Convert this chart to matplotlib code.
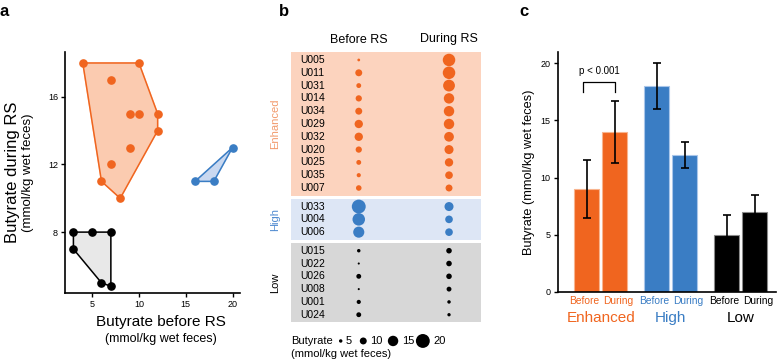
import matplotlib
matplotlib.use('Agg')
import matplotlib.pyplot as plt
import matplotlib.transforms as mtransforms

plt.rcParams['font.family'] = ['Liberation Sans', 'DejaVu Sans']

ORANGE = '#F0651F'
BLUE = '#3A7DC4'
BLACK = '#000000'

# subjects per group, butyrate before / during RS (mmol/kg wet feces)
enh_ids = ['U005', 'U011', 'U031', 'U014', 'U034', 'U029', 'U032', 'U020', 'U025', 'U035', 'U007']
enh_before = [4, 10, 7, 9, 10, 12, 12, 9, 7, 6, 8]
enh_during = [18, 18, 17, 15, 15, 15, 14, 13, 12, 11, 10]

high_ids = ['U033', 'U004', 'U006']
high_before = [20, 18, 16]
high_during = [13, 11, 11]

low_ids = ['U015', 'U022', 'U026', 'U008', 'U001', 'U024']
low_before = [5, 3, 7, 3, 6, 7]
low_during = [8, 8, 8, 7, 5, 4.8]

# panel c group means and errors
bar_groups = ['Enhanced', 'High', 'Low']
bar_before = [9, 18, 5]
bar_during = [14, 12, 7]
err_before = [2.5, 2.0, 1.7]
err_during = [2.7, 1.15, 1.5]

legend_vals = [5, 10, 15, 20]

groups = [
    ('Enhanced', enh_ids, enh_before, enh_during, ORANGE, '#FCD3BE', '#FBCBB0', '#F29A6C'),
    ('High', high_ids, high_before, high_during, BLUE, '#DDE6F5', '#C9D8F0', '#4F8AD0'),
    ('Low', low_ids, low_before, low_during, BLACK, '#D7D7D7', '#E8E8E8', '#000000'),
]


def convex_hull(xs, ys):
    pts = sorted(set(zip(xs, ys)))

    def cross(o, a, b):
        return (a[0] - o[0]) * (b[1] - o[1]) - (a[1] - o[1]) * (b[0] - o[0])

    lower, upper = [], []
    for p in pts:
        while len(lower) >= 2 and cross(lower[-2], lower[-1], p) <= 0:
            lower.pop()
        lower.append(p)
    for p in reversed(pts):
        while len(upper) >= 2 and cross(upper[-2], upper[-1], p) <= 0:
            upper.pop()
        upper.append(p)
    return lower[:-1] + upper[:-1]


def bubble(v):
    return (0.5 * v) ** 2


W, H = 778, 361
fig = plt.figure(figsize=(W / 100, H / 100), dpi=100)


def px_axes(x0, y0, x1, y1):
    return fig.add_axes([x0 / W, 1 - y1 / H, (x1 - x0) / W, (y1 - y0) / H])


# ---------------- panel a ----------------
ax = px_axes(65, 52, 240, 293)
for name, ids, bef, dur, col, band, fill, tcol in groups:
    hull = convex_hull(bef, dur)
    hx = [p[0] for p in hull] + [hull[0][0]]
    hy = [p[1] for p in hull] + [hull[0][1]]
    ax.fill(hx, hy, color=fill, zorder=1)
    ax.plot(hx, hy, color=col, lw=1.1, zorder=2)
    ax.plot(bef, dur, 'o', color=col, ms=5.2, zorder=3, clip_on=False)
ax.set_xlim(2.1, 20.8)
ax.set_ylim(4.4, 18.65)
ax.set_xticks([5, 10, 15, 20])
ax.set_yticks([8, 12, 16])
for s in ['top', 'right']:
    ax.spines[s].set_visible(False)
for s in ['left', 'bottom']:
    ax.spines[s].set_linewidth(1.2)
ax.tick_params(labelsize=6.5, width=1, length=3, pad=2)
ax.text(0.55, -0.12, 'Butyrate before RS', transform=ax.transAxes, ha='center', va='center', fontsize=11)
ax.text(0.55, -0.19, '(mmol/kg wet feces)', transform=ax.transAxes, ha='center', va='center', fontsize=9)
ax.text(-0.30, 0.5, 'Butyrate during RS', transform=ax.transAxes, rotation=90, ha='center', va='center', fontsize=12)
ax.text(-0.21, 0.5, '(mmol/kg wet feces)', transform=ax.transAxes, rotation=90, ha='center', va='center', fontsize=9.5)

# ---------------- panel b ----------------
axb = px_axes(290.7, 52.3, 480.7, 322.4)
axb.set_xlim(-0.754, 1.351)
axb.set_ylim(20.5, -0.6)
axb.axis('off')
gap = 0.45
start = 0.0
for name, ids, bef, dur, col, band, fill, tcol in groups:
    rows = [start + i for i in range(len(ids))]
    axb.axhspan(rows[0] - 0.6, rows[-1] + 0.6, color=band, zorder=0, lw=0)
    axb.scatter([0] * len(rows), rows, s=[bubble(v) for v in bef], color=col, zorder=2, lw=0)
    axb.scatter([1] * len(rows), rows, s=[bubble(v) for v in dur], color=col, zorder=2, lw=0)
    for r, lab in zip(rows, ids):
        axb.text(-0.643, r, lab, ha='left', va='center', fontsize=7.5)
    axb.text(-0.93, (rows[0] + rows[-1]) / 2, name, rotation=90, ha='center', va='center',
             fontsize=8, color=tcol, clip_on=False)
    start = rows[-1] + 1 + gap
axb.text(0, -1.55, 'Before RS', ha='center', va='center', fontsize=9, clip_on=False)
axb.text(1, -1.65, 'During RS', ha='center', va='center', fontsize=9, clip_on=False)

# bubble legend
leg_y = 21.95
leg_x = [-0.20, 0.05, 0.38, 0.71]
axb.text(-0.754, leg_y, 'Butyrate', ha='left', va='center', fontsize=8, clip_on=False)
axb.text(-0.754, leg_y + 1.05, '(mmol/kg wet feces)', ha='left', va='center', fontsize=8, clip_on=False)
axb.scatter(leg_x, [leg_y] * len(leg_x), s=[bubble(v) for v in legend_vals], color=BLACK, lw=0, clip_on=False)
for x, v in zip(leg_x, legend_vals):
    axb.annotate(str(v), (x, leg_y), xytext=(0.5 * v * 0.5 + 2.5, 0), textcoords='offset points',
                 ha='left', va='center', fontsize=8, annotation_clip=False)

# ---------------- panel c ----------------
axc = px_axes(557.7, 52, 776, 291.7)
group_cols = [ORANGE, BLUE, BLACK]
edge_cols = ['#F8B48E', '#A9C6EA', '#8A8A8A']
bw = 0.893
xb = [i * 2.5 for i in range(len(bar_groups))]
xd = [x + 1 for x in xb]
axc.bar(xb, bar_before, width=bw, color=group_cols, edgecolor=edge_cols, lw=0.8, zorder=1)
axc.bar(xd, bar_during, width=bw, color=group_cols, edgecolor=edge_cols, lw=0.8, zorder=1)
axc.errorbar(xb, bar_before, yerr=err_before, fmt='none', ecolor=BLACK, elinewidth=1.2, capsize=3, capthick=1.2, zorder=3)
axc.errorbar(xd, bar_during, yerr=err_during, fmt='none', ecolor=BLACK, elinewidth=1.2, capsize=3, capthick=1.2, zorder=3)
axc.set_xlim(-1.04, 6.75)
axc.set_ylim(0, 21)
axc.set_yticks([0, 5, 10, 15, 20])
axc.set_xticks([])
for s in ['top', 'right']:
    axc.spines[s].set_visible(False)
for s in ['left', 'bottom']:
    axc.spines[s].set_linewidth(1.2)
axc.tick_params(labelsize=6.5, width=1, length=3, pad=2)
axc.set_ylabel('Butyrate (mmol/kg wet feces)', fontsize=9.2, labelpad=4)
trans = mtransforms.blended_transform_factory(axc.transData, axc.transAxes)
for i, g in enumerate(bar_groups):
    axc.text(xb[i] + bw / 2, -0.04, 'Before', transform=trans, ha='right', va='center', fontsize=7.4, color=group_cols[i])
    axc.text(xd[i] - bw / 2 + 0.02, -0.04, 'During', transform=trans, ha='left', va='center', fontsize=7.4, color=group_cols[i])
    axc.text((xb[i] + xd[i]) / 2, -0.11, g, transform=trans, ha='center', va='center', fontsize=11, color=group_cols[i])

# significance bracket
br_lo, br_hi = 17.5, 18.4
axc.plot([-0.12, -0.12, 1.0, 1.0], [br_lo, br_hi, br_hi, br_lo], color=BLACK, lw=0.9)
axc.text(0.45, 19.35, 'p < 0.001', ha='center', va='center', fontsize=7)

# panel letters
for x, lab in [(0, 'a'), (279, 'b'), (519, 'c')]:
    fig.text(x / W, 1 - 11 / H, lab, fontsize=12, fontweight='bold', ha='left', va='center')

fig.savefig('out.png', dpi=100)
